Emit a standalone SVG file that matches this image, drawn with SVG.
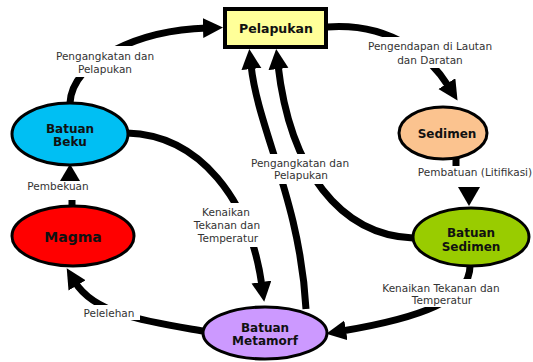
<svg xmlns="http://www.w3.org/2000/svg" width="533" height="362" viewBox="0 0 533 362">
<style>
.c{fill:none;stroke:#000;stroke-width:7;marker-end:url(#ah)}
.s{fill:none;stroke:#000;stroke-width:7}
.n{stroke:#000;stroke-width:3}
.t{font-family:"DejaVu Sans",Verdana,sans-serif;font-weight:bold;font-size:12px;fill:#111;text-anchor:middle}
.l{font-family:"DejaVu Sans",Verdana,sans-serif;font-size:10.5px;fill:#333;text-anchor:middle}
.bg{fill:#fff}
</style>
<defs>
<marker id="ah" markerUnits="userSpaceOnUse" markerWidth="22" markerHeight="22" refX="4" refY="10" orient="auto">
<path d="M0,0 L20,10 L0,20 z" fill="#000"/>
</marker>
</defs>
<rect width="533" height="362" fill="#fff"/>
<g id="connectors">
<path class="c" d="M70,103 C72,60 140,30 207,28"/>
<path class="c" d="M327,27 C395,22 432,60 449,87"/>
<path class="s" d="M456,158 L456,166"/>
<path d="M458,187 L480,187 L469,206 z" fill="#000"/>
<path class="c" d="M413,238 C340,235 290,170 278,65"/>
<path class="c" d="M306,309 C300,200 258,130 251,65"/>
<path class="c" d="M127,133 C200,135 250,200 262,286"/>
<path class="c" d="M470,266 C470,300 420,318 342,331"/>
<path class="c" d="M203,331 C150,322 95,315 75,282"/>
<path class="s" d="M72,206 L72,200"/>
<path d="M60,181 L80,181 L70,164 z" fill="#000"/>
</g>
<g id="labels">
<rect class="bg" x="50" y="46" width="110" height="31"/>
<text class="l" x="105" y="60">Pengangkatan dan</text>
<text class="l" x="105" y="73">Pelapukan</text>
<rect class="bg" x="362" y="37" width="137" height="31"/>
<text class="l" x="430" y="50">Pengendapan di Lautan</text>
<text class="l" x="430" y="64">dan Daratan</text>
<text class="l" x="475" y="176">Pembatuan (Litifikasi)</text>
<rect class="bg" x="246" y="154" width="110" height="30"/>
<text class="l" x="300" y="167">Pengangkatan dan</text>
<text class="l" x="301" y="179">Pelapukan</text>
<rect class="bg" x="188" y="203" width="80" height="44"/>
<text class="l" x="226" y="216">Kenaikan</text>
<text class="l" x="227" y="229">Tekanan dan</text>
<text class="l" x="228" y="242">Temperatur</text>
<rect class="bg" x="374" y="279" width="136" height="28"/>
<text class="l" x="441" y="292">Kenaikan Tekanan dan</text>
<text class="l" x="442" y="304">Temperatur</text>
<rect class="bg" x="78" y="305" width="62" height="15"/>
<text class="l" x="109" y="317">Pelelehan</text>
<text class="l" x="58" y="190">Pembekuan</text>
</g>
<g id="pelapukan">
<rect x="225" y="9" width="101" height="38" fill="#FFFF99" stroke="#000" stroke-width="4"/>
<text class="t" x="276" y="33" style="font-size:12.5px">Pelapukan</text>
</g>
<g id="batuan-beku">
<ellipse class="n" cx="70" cy="134" rx="58" ry="31" fill="#00BFF3"/>
<text class="t" x="70" y="133">Batuan</text>
<text class="t" x="70" y="146">Beku</text>
</g>
<g id="magma">
<ellipse class="n" cx="73" cy="236" rx="61" ry="30" fill="#FF0000"/>
<text class="t" x="73" y="242" style="font-size:14px">Magma</text>
</g>
<g id="sedimen">
<ellipse class="n" cx="443" cy="133" rx="44" ry="26" fill="#FBC38F"/>
<text class="t" x="447" y="138">Sedimen</text>
</g>
<g id="batuan-sedimen">
<ellipse class="n" cx="471" cy="237" rx="58" ry="29" fill="#99CC00"/>
<text class="t" x="471" y="237">Batuan</text>
<text class="t" x="471" y="251">Sedimen</text>
</g>
<g id="batuan-metamorf">
<ellipse class="n" cx="265" cy="333" rx="62" ry="26" fill="#CC99FF"/>
<text class="t" x="265" y="332">Batuan</text>
<text class="t" x="265" y="345">Metamorf</text>
</g>
</svg>
